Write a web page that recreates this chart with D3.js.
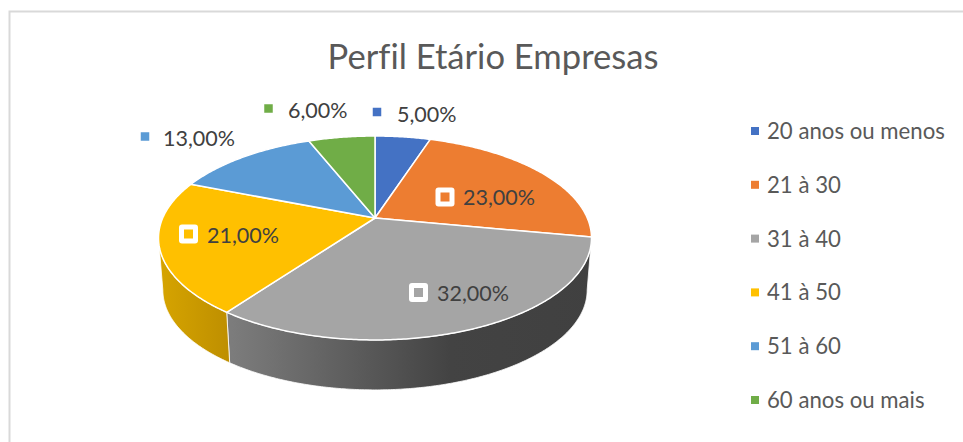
<!DOCTYPE html>
<html><head><meta charset="utf-8">
<style>html,body{margin:0;padding:0;background:#fff}svg{display:block}text{font-family:Lato,"Open Sans",sans-serif;font-variant-ligatures:none}</style>
<script src="https://cdn.jsdelivr.net/npm/d3@7"></script></head>
<body><svg id="c" width="963" height="442"></svg>
<script>
const title = "Perfil Etário Empresas";
const categories = ["20 anos ou menos","21 à 30","31 à 40","41 à 50","51 à 60","60 anos ou mais"];
const values = [5,23,32,21,13,6];
const labels = ["5,00%","23,00%","32,00%","21,00%","13,00%","6,00%"];
const colors = ["#4472c4","#ed7d31","#a5a5a5","#ffc000","#5b9bd5","#70ad47"];

// layout, separate from the data
const labelAt = [[397,122],[463,205],[437,301],[207,243],[163,146],[288,118]];
const markerAt = [[377,112],[445,197],[418.5,292.5],[188.5,234],[145,136.5],[268.5,108.5]];
const boxed = [false,true,true,true,false,false];
const apex = {x:375,y:218};
const persp = 0.196, A = 212.3, B = 98.04;
const depth = 52.4, bottomScale = 0.98;

const svg = d3.select("#c");
svg.append("path").attr("d","M9.5,442V11.5H963").attr("fill","none").attr("stroke","#d9d9d9").attr("stroke-width",2);

const project = (t,s=1,dy=0)=>{
  const u=Math.sin(t), v=-Math.cos(t), w=1-persp*v;
  return [apex.x+s*A*u/w, apex.y+dy+s*B*v/w];
};
const arcs = d3.pie().sort(null).value(d=>d).startAngle(0).endAngle(2*Math.PI)(values);
const rim = (a,b,s,dy)=>{
  const n=Math.max(2,Math.ceil((b-a)/0.01));
  return d3.range(n+1).map(i=>project(a+(b-a)*i/n,s,dy));
};
const line = d3.line();

// visible side wall limits: silhouette of the projected ellipse
const sideStart = Math.acos(-persp), sideEnd = 2*Math.PI-sideStart;
const defs = svg.append("defs");
const sideScales = {
  2: d3.scaleLinear().domain([232,450,600]).range(["#7c7c7c","#434343","#404040"]),
  3: d3.scaleLinear().domain([160,232]).range(["#d6a400","#bd8e00"])
};
arcs.forEach((d,i)=>{
  const a=Math.max(d.startAngle,sideStart), b=Math.min(d.endAngle,sideEnd);
  if(b<=a) return;
  const pts=rim(a,b,1,0).concat(rim(a,b,bottomScale,depth).reverse());
  const sc=sideScales[i];
  let fill=colors[i];
  if(sc){
    const [x0,x1]=d3.extent(sc.domain());
    const g=defs.append("linearGradient").attr("id","side"+i).attr("gradientUnits","userSpaceOnUse")
      .attr("x1",x0).attr("x2",x1).attr("y1",0).attr("y2",0);
    sc.domain().forEach(x=>g.append("stop").attr("offset",(x-x0)/(x1-x0)).attr("stop-color",sc(x)));
    fill=`url(#side${i})`;
  }
  svg.append("path").attr("d",line(pts)+"Z").attr("fill",fill).attr("stroke","#fff").attr("stroke-width",1).attr("stroke-opacity",.8);
});
// top face
svg.append("g").selectAll("path").data(arcs).join("path")
  .attr("d",d=>line([[apex.x,apex.y]].concat(rim(d.startAngle,d.endAngle,1,0)))+"Z")
  .attr("fill",(d,i)=>colors[i]).attr("stroke","#fff").attr("stroke-width",1.5).attr("stroke-linejoin","round");

// data labels
labels.forEach((t,i)=>{
  const [mx,my]=markerAt[i];
  if(boxed[i]) svg.append("rect").attr("x",mx-9.5).attr("y",my-9.5).attr("width",19).attr("height",19).attr("rx",3).attr("fill","#fff");
  const s=boxed[i]?9:8.5;
  svg.append("rect").attr("x",mx-s/2).attr("y",my-s/2).attr("width",s).attr("height",s).attr("fill",colors[i]);
  svg.append("text").attr("x",labelAt[i][0]).attr("y",labelAt[i][1]).attr("font-size",21.5).attr("fill","#404040").text(t);
});
// legend
const ly=d3.scalePoint().domain(categories).range([131,400]);
categories.forEach((c,i)=>{
  svg.append("rect").attr("x",751).attr("y",ly(c)-4).attr("width",8).attr("height",8).attr("fill",colors[i]);
  svg.append("text").attr("x",767).attr("y",ly(c)+8).attr("font-size",22.2).attr("fill","#595959").text(c);
});
svg.append("text").attr("x",493).attr("y",69).attr("text-anchor","middle").attr("font-size",34.6).attr("fill","#595959").text(title);
</script></body></html>
